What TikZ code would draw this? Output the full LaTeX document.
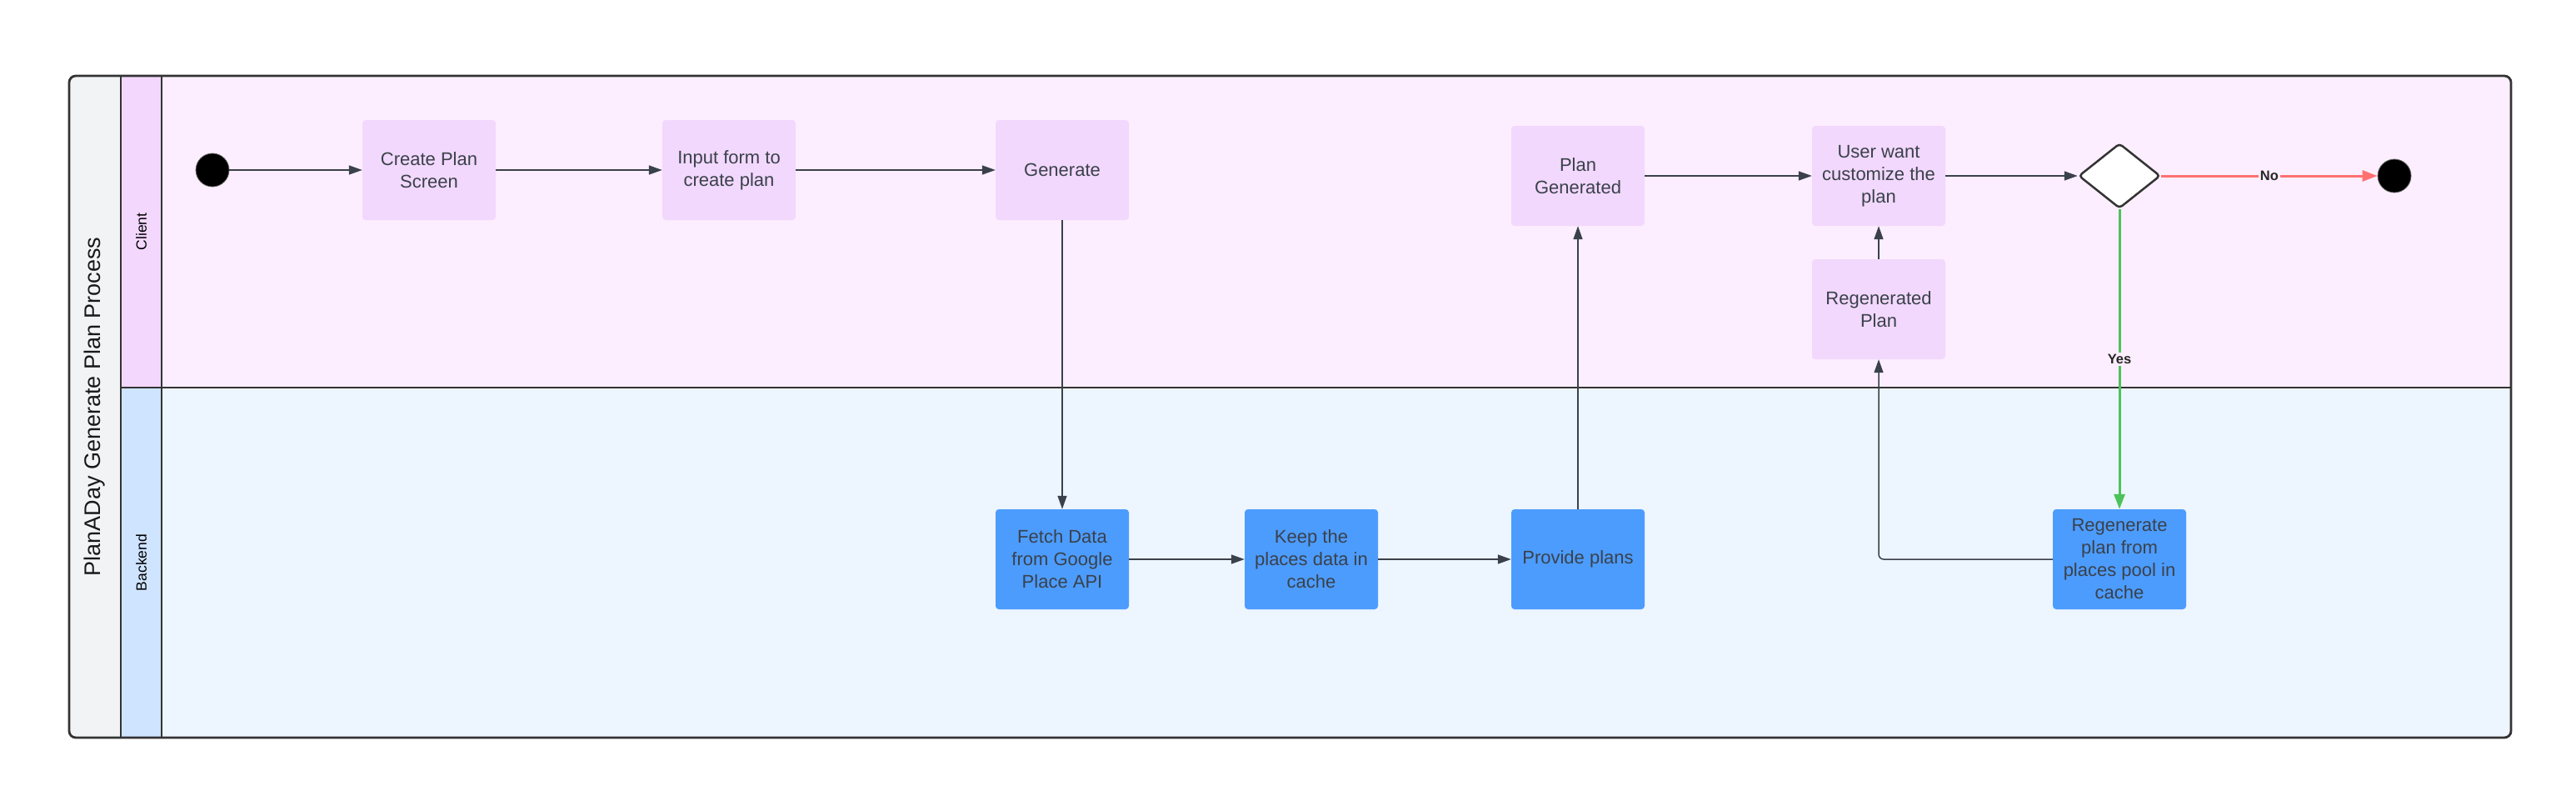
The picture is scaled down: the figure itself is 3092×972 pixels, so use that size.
\documentclass[tikz,border=0pt]{standalone}
\usepackage{fontspec}
\setmainfont{Liberation Sans}
\usetikzlibrary{arrows.meta,shapes.geometric}
\definecolor{framec}{HTML}{333333}
\definecolor{titlebg}{HTML}{F2F3F5}
\definecolor{clientlab}{HTML}{F3D7FD}
\definecolor{backlab}{HTML}{CFE4FF}
\definecolor{clientbg}{HTML}{FCEEFE}
\definecolor{backbg}{HTML}{EDF5FF}
\definecolor{purplebox}{HTML}{F2D8FD}
\definecolor{bluebox}{HTML}{4C9CFE}
\definecolor{txt}{HTML}{3A414A}
\definecolor{yesg}{HTML}{4CC35A}
\definecolor{nor}{HTML}{FF7171}
\begin{document}
\begin{tikzpicture}[x=1pt,y=-1pt,
  box/.style={rectangle, rounded corners=4pt, minimum width=160pt, minimum height=120pt, inner sep=0pt, align=center, text=txt, font=\fontsize{22}{27}\selectfont},
  cbox/.style={box, fill=purplebox},
  bbox/.style={box, fill=bluebox},
  flow/.style={draw=txt, line width=1.5pt, -{Triangle[length=16pt,width=11pt]}},
  yesflow/.style={draw=yesg, line width=3pt, -{Triangle[length=18pt,width=13pt]}},
  noflow/.style={draw=nor, line width=3pt, -{Triangle[length=18pt,width=13pt]}},
  lbl/.style={fill=clientbg, inner sep=2pt, text=black!85, font=\bfseries\fontsize{16.5}{19}\selectfont},
  dot/.style={circle, fill=black, draw=black!60, line width=0.8pt, minimum size=40pt, inner sep=0pt},
  lanelab/.style={rotate=90, text=black, font=\fontsize{17.5}{20}\selectfont}
]
\useasboundingbox (0,0) rectangle (3092,972);
\fill[white] (0,0) rectangle (3092,972);

% pool background
\begin{scope}
  \clip[rounded corners=8pt] (83,91) rectangle (3014,885);
  \fill[titlebg] (83,91) rectangle (145,885);
  \fill[clientlab] (145,91) rectangle (194,465);
  \fill[backlab] (145,465) rectangle (194,885);
  \fill[clientbg] (194,91) rectangle (3014,465);
  \fill[backbg] (194,465) rectangle (3014,885);
\end{scope}
\draw[framec, line width=2.5pt] (145,91) -- (145,885);
\draw[framec, line width=2.5pt] (194,91) -- (194,885);
\draw[framec, line width=2.5pt] (145,465) -- (3014,465);
\draw[framec, line width=2.8pt, rounded corners=8pt] (83,91) rectangle (3014,885);

\node[rotate=90, text=black!90, font=\fontsize{27}{32}\selectfont] (title) at (114,488) {PlanADay Generate Plan Process};
\node[lanelab] (client) at (169.5,278) {Client};
\node[lanelab] (backend) at (169.5,675) {Backend};

% nodes
\node[dot] (start) at (255,204) {};
\node[cbox] (create) at (515,204) {Create Plan\\Screen};
\node[cbox] (input) at (875,204) {Input form to\\create plan};
\node[cbox] (gen) at (1275,204) {Generate};
\node[cbox] (plangen) at (1894,211) {Plan\\Generated};
\node[cbox] (userwant) at (2255,211) {User want\\customize the\\plan};
\node[cbox] (regplan) at (2255,371) {Regenerated\\Plan};
\node[diamond, draw=framec, fill=white, line width=2.5pt, rounded corners=4pt, minimum width=98pt, minimum height=78pt, aspect=1.25, inner sep=0pt] (dec) at (2544,211) {};
\node[dot] (end) at (2874,211) {};

\node[bbox] (fetch) at (1275,671) {Fetch Data\\from Google\\Place API};
\node[bbox] (keep) at (1574,671) {Keep the\\places data in\\cache};
\node[bbox] (provide) at (1894,671) {Provide plans};
\node[bbox] (regen) at (2544,671) {Regenerate\\plan from\\places pool in\\cache};

% connectors
\draw[flow] (start) -- (create);
\draw[flow] (create) -- (input);
\draw[flow] (input) -- (gen);
\draw[flow] (gen) -- (fetch);
\draw[flow] (fetch) -- (keep);
\draw[flow] (keep) -- (provide);
\draw[flow] (provide) -- (plangen);
\draw[flow] (plangen) -- (userwant);
\draw[flow] (userwant) -- (dec);
\draw[noflow] (dec) -- node[lbl] {No} (end);
\draw[yesflow] (dec) -- node[lbl] {Yes} (regen);
\draw[flow, rounded corners=6pt] (regen.west) -| (regplan.south);
\draw[flow] (regplan) -- (userwant);
\end{tikzpicture}
\end{document}
